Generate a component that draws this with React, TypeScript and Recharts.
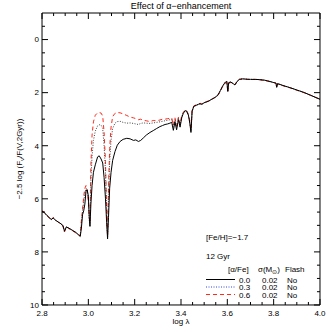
import React from 'react';
import { LineChart, Line, XAxis, YAxis } from 'recharts';

const logLambda = [
  2.8, 2.81, 2.82, 2.83, 2.84, 2.848, 2.86, 2.875, 2.89, 2.897, 2.905, 2.915, 2.93, 2.945, 2.958,
  2.965, 2.97, 2.975, 2.98, 2.985, 2.99, 2.995, 3.0, 3.004, 3.007, 3.011, 3.016, 3.022, 3.03, 3.04,
  3.047, 3.055, 3.062, 3.068, 3.074, 3.079, 3.083, 3.087, 3.092, 3.098, 3.105, 3.115, 3.125, 3.137,
  3.15, 3.166, 3.18, 3.195, 3.205, 3.216, 3.226, 3.237, 3.25, 3.266, 3.28, 3.295, 3.309, 3.32, 3.331,
  3.342, 3.352, 3.36, 3.367, 3.374, 3.381, 3.389, 3.396, 3.403, 3.41, 3.418, 3.424, 3.432, 3.438,
  3.443, 3.448, 3.455, 3.465, 3.475, 3.482, 3.49, 3.5, 3.51, 3.52, 3.53, 3.54, 3.55, 3.56, 3.57,
  3.578, 3.585, 3.592, 3.598, 3.602, 3.606, 3.615, 3.625, 3.633, 3.642, 3.652, 3.665, 3.68, 3.7,
  3.72, 3.74, 3.76, 3.78, 3.8, 3.81, 3.813, 3.817, 3.84, 3.87, 3.9, 3.93, 3.96, 4.0,
];

const alpha00 = [
  6.47, 6.52, 6.62, 6.7, 6.78, 6.72, 6.82, 6.9, 7.0, 7.22, 7.06, 7.1, 7.18, 7.26, 7.36,
  7.42, 7.1, 6.6, 6.45, 6.2, 5.7, 5.66, 5.9, 6.7, 7.04, 6.2, 5.5, 5.0, 4.72, 4.42,
  4.38, 4.5, 4.65, 5.2, 6.0, 6.9, 7.51, 6.7, 5.6, 5.0, 4.55, 4.22, 3.98, 3.84,
  3.76, 3.72, 3.74, 3.8, 3.78, 3.84, 3.8, 3.71, 3.6, 3.5, 3.43, 3.35, 3.28, 3.24, 3.2,
  3.18, 3.15, 3.12, 3.42, 3.1, 3.4, 3.02, 3.3, 2.95, 2.78, 2.68, 2.7, 2.85, 3.15,
  3.5, 2.7, 2.52, 2.48, 2.44, 2.42, 2.44, 2.38, 2.35, 2.32, 2.26, 2.22, 2.16, 2.08, 1.92,
  1.78, 1.68, 1.6, 1.58, 1.95, 1.62, 1.6, 1.66, 1.71, 1.58, 1.5, 1.48, 1.49, 1.5,
  1.5, 1.51, 1.53, 1.57, 1.62, 1.64, 1.8, 1.66, 1.73, 1.81, 1.9, 1.99, 2.1, 2.25,
];

const alpha03 = [
  6.47, 6.52, 6.62, 6.7, 6.78, 6.72, 6.82, 6.9, 7.0, 7.22, 7.06, 7.1, 7.18, 7.26, 7.36,
  7.4, 6.9, 6.5, 6.1, 5.8, 5.6, 5.65, 6.0, 6.8, 7.0, 5.3, 4.4, 3.8, 3.45, 3.25,
  3.21, 3.22, 3.35, 4.0, 5.0, 6.6, 7.45, 6.0, 4.6, 3.8, 3.35, 3.15, 3.09, 3.08,
  3.12, 3.15, 3.14, 3.16, 3.18, 3.2, 3.16, 3.14, 3.15, 3.16, 3.14, 3.12, 3.1, 3.08, 3.06,
  3.04, 3.02, 3.02, 3.3, 3.0, 3.3, 2.96, 3.22, 2.9, 2.76, 2.67, 2.68, 2.84, 3.1,
  3.45, 2.7, 2.52, 2.48, 2.44, 2.42, 2.44, 2.38, 2.35, 2.32, 2.26, 2.22, 2.16, 2.08, 1.92,
  1.78, 1.68, 1.6, 1.58, 1.95, 1.62, 1.6, 1.66, 1.71, 1.58, 1.5, 1.48, 1.49, 1.5,
  1.5, 1.51, 1.53, 1.57, 1.62, 1.64, 1.8, 1.66, 1.73, 1.81, 1.9, 1.99, 2.1, 2.25,
];

const alpha06 = [
  6.45, 6.5, 6.58, 6.72, 6.8, 6.7, 6.8, 6.92, 7.02, 7.25, 7.05, 7.12, 7.2, 7.28, 7.36,
  7.38, 6.8, 6.4, 5.9, 5.6, 5.5, 5.7, 6.1, 6.7, 6.9, 4.7, 3.6, 3.1, 2.85, 2.76,
  2.75, 2.77, 2.88, 3.5, 4.6, 6.4, 7.4, 5.6, 4.1, 3.3, 2.9, 2.78, 2.75, 2.76,
  2.8, 2.86, 2.92, 2.95, 2.98, 3.02, 3.0, 3.04, 3.06, 3.09, 3.05, 3.06, 3.03, 3.0, 3.0,
  2.98, 2.97, 2.95, 3.22, 2.95, 3.25, 2.92, 3.18, 2.86, 2.74, 2.66, 2.66, 2.82, 3.05,
  3.4, 2.66, 2.5, 2.46, 2.44, 2.4, 2.42, 2.37, 2.34, 2.3, 2.27, 2.2, 2.18, 2.1, 1.95,
  1.8, 1.72, 1.66, 1.62, 2.0, 1.65, 1.62, 1.66, 1.7, 1.56, 1.5, 1.49, 1.5, 1.51,
  1.5, 1.52, 1.54, 1.58, 1.62, 1.65, 1.78, 1.67, 1.74, 1.82, 1.91, 2.0, 2.1, 2.25,
];

const majorX = [2.8, 3.0, 3.2, 3.4, 3.6, 3.8, 4.0];
const minorX = [2.85, 2.9, 2.95, 3.05, 3.1, 3.15, 3.25, 3.3, 3.35, 3.45, 3.5, 3.55, 3.65, 3.7, 3.75, 3.85, 3.9, 3.95];
const majorY = [0, 2, 4, 6, 8, 10];
const minorY = [-0.5, 0.5, 1, 1.5, 2.5, 3, 3.5, 4.5, 5, 5.5, 6.5, 7, 7.5, 8.5, 9, 9.5];

const legendRows = [
  { alpha: '0.0', mass: '0.02', flash: 'No' },
  { alpha: '0.3', mass: '0.02', flash: 'No' },
  { alpha: '0.6', mass: '0.02', flash: 'No' },
];

const data = logLambda.map((l, i) => ({ l, a0: alpha00[i], a3: alpha03[i], a6: alpha06[i] }));

const FONT = '"Liberation Sans", Arial, sans-serif';
const tickFont = { fontSize: 8, fill: '#000', fontFamily: FONT };
const blank = () => '';
const XD: [number, number] = [2.8, 4.0];
const YD: [number, number] = [-1, 10];
const T = 0.01;

const lineStyles = [
  { stroke: '#000000', dash: undefined as string | undefined },
  { stroke: '#3344dd', dash: '1 1.5' },
  { stroke: '#ff2a1a', dash: '4 3' },
];

export default function App() {
  return (
    <div style={{ position: 'absolute', left: 0, top: 0, width: 332, height: 332, background: '#fff' }}>
      <LineChart width={332} height={332} data={data} margin={{ top: 13, right: 12, bottom: 27, left: 42 }}>
        <XAxis xAxisId="main" type="number" dataKey="l" domain={XD} ticks={majorX} interval={0} height={T}
          tickSize={-6} tickMargin={11} tick={tickFont} tickFormatter={(v: number) => v.toFixed(1)}
          axisLine={{ stroke: '#000' }} tickLine={{ stroke: '#000' }} allowDataOverflow
          label={{ value: 'log \u03bb', position: 'bottom', offset: 13, style: { fontSize: 8, fill: '#000', fontFamily: FONT } }} />
        <XAxis xAxisId="minB" type="number" dataKey="l" domain={XD} ticks={minorX} interval={0} height={T}
          tickSize={-3} tickFormatter={blank} axisLine={false} tickLine={{ stroke: '#000' }} allowDataOverflow />
        <XAxis xAxisId="top" orientation="top" type="number" dataKey="l" domain={XD} ticks={majorX} interval={0} height={T}
          tickSize={-6} tickFormatter={blank} axisLine={{ stroke: '#000' }} tickLine={{ stroke: '#000' }} allowDataOverflow
          label={{ value: 'Effect of \u03b1\u2212enhancement', position: 'top', offset: 4, style: { fontSize: 9, fill: '#000', fontFamily: FONT } }} />
        <XAxis xAxisId="minT" orientation="top" type="number" dataKey="l" domain={XD} ticks={minorX} interval={0} height={T}
          tickSize={-3} tickFormatter={blank} axisLine={false} tickLine={{ stroke: '#000' }} allowDataOverflow />
        <YAxis yAxisId="main" type="number" domain={YD} reversed ticks={majorY} interval={0} width={T}
          tickSize={-6} tickMargin={9} tick={tickFont} axisLine={{ stroke: '#000' }} tickLine={{ stroke: '#000' }} allowDataOverflow
          label={{
            content: (p: any) => {
              const vb = p.viewBox || {};
              const cx = (vb.x ?? 42) - 20;
              const cy = (vb.y ?? 13) + (vb.height ?? 292) / 2;
              return (
                <text x={cx} y={cy} transform={`rotate(-90, ${cx}, ${cy})`} textAnchor="middle"
                  style={{ fontSize: 8, fill: '#000', fontFamily: FONT }}>
                  <tspan>{'\u22122.5  log  (F'}</tspan>
                  <tspan fontSize={6} dy={2}>{'\u03bd'}</tspan>
                  <tspan dy={-2}>{'/F(V,2Gyr))'}</tspan>
                </text>
              );
            },
          }} />
        <YAxis yAxisId="minL" type="number" domain={YD} reversed ticks={minorY} interval={0} width={T}
          tickSize={-3} tickFormatter={blank} axisLine={false} tickLine={{ stroke: '#000' }} allowDataOverflow />
        <YAxis yAxisId="right" orientation="right" type="number" domain={YD} reversed ticks={majorY} interval={0} width={T}
          tickSize={-6} tickFormatter={blank} axisLine={{ stroke: '#000' }} tickLine={{ stroke: '#000' }} allowDataOverflow />
        <YAxis yAxisId="minR" orientation="right" type="number" domain={YD} reversed ticks={minorY} interval={0} width={T}
          tickSize={-3} tickFormatter={blank} axisLine={false} tickLine={{ stroke: '#000' }} allowDataOverflow />
        <Line xAxisId="main" yAxisId="main" type="linear" dataKey="a6" stroke={lineStyles[2].stroke}
          strokeDasharray={lineStyles[2].dash} strokeWidth={1} dot={false} isAnimationActive={false} />
        <Line xAxisId="main" yAxisId="main" type="linear" dataKey="a3" stroke="#444" strokeDasharray="1 1.5"
          strokeWidth={1} dot={false} isAnimationActive={false} />
        <Line xAxisId="main" yAxisId="main" type="linear" dataKey="a0" stroke={lineStyles[0].stroke}
          strokeWidth={1} dot={false} isAnimationActive={false} />
      </LineChart>
      <svg width={332} height={332} style={{ position: 'absolute', left: 0, top: 0, pointerEvents: 'none' }}>
        <g style={{ fontSize: 8, fill: '#000', fontFamily: FONT }}>
          <text x={206} y={240}>{'[Fe/H]=\u22121.7'}</text>
          <text x={206} y={259}>12 Gyr</text>
          <text x={228} y={272}>{'[\u03b1/Fe]'}</text>
          <text x={258} y={272}>{'\u03c3(M'}<tspan fontSize={5.5} dy={1.5}>{'\u2299'}</tspan><tspan dy={-1.5}>)</tspan></text>
          <text x={285} y={272}>Flash</text>
          {legendRows.map((r, i) => {
            const y = 279.5 + i * 7.5;
            const s = lineStyles[i];
            return (
              <g key={r.alpha}>
                <line x1={206} x2={235} y1={y} y2={y} stroke={s.stroke} strokeWidth={1} strokeDasharray={s.dash} />
                <text x={239} y={y + 3}>{r.alpha}</text>
                <text x={262} y={y + 3}>{r.mass}</text>
                <text x={287} y={y + 3}>{r.flash}</text>
              </g>
            );
          })}
        </g>
      </svg>
    </div>
  );
}
